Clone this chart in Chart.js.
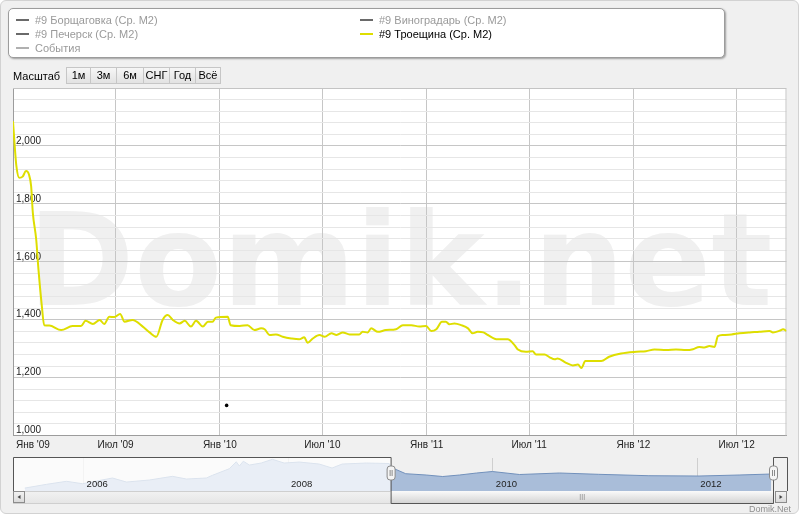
<!DOCTYPE html>
<html lang="ru">
<head>
<meta charset="utf-8">
<title>Domik.net — #9 Троещина (Ср. M2)</title>
<script src="https://cdn.jsdelivr.net/npm/chart.js@4/dist/chart.umd.min.js"></script>
<style>
  html, body { margin: 0; padding: 0; background: #fff; }
  body { width: 800px; height: 516px; position: relative; overflow: hidden; font-family: "Liberation Sans", Arial, sans-serif; }
  #frame { position: absolute; left: 0; top: 0; width: 797px; height: 512px; border: 1px solid #d2d2d2; border-radius: 6px; background: #f0f0f0; }
  canvas { position: absolute; left: 0; }
  #main { top: 0; }
  #nav { top: 452px; }
  #legend { position: absolute; left: 8px; top: 8px; width: 715px; height: 48px; background: #fff; border: 1px solid #9c9c9c; border-radius: 5px; box-shadow: 1px 1px 2px rgba(0,0,0,0.35); font-size: 11px; }
  .item { position: absolute; white-space: nowrap; color: #9a9a9a; line-height: 14px; }
  .item i { display: inline-block; width: 13px; height: 2px; background: #6a6a6a; vertical-align: middle; margin-right: 6px; position: relative; top: -1px; }
  .item.events i { background: #b0b0b0; }
  .item.on { color: #000; }
  .item.on i { background: #dede00; }
  #scale-label { position: absolute; left: 13px; top: 69px; font-size: 11px; color: #000; line-height: 14px; }
  #buttons { position: absolute; left: 67px; top: 67px; display: flex; }
  #buttons span { box-sizing: border-box; height: 17px; line-height: 15px; text-align: center; font-size: 11px; color: #000; border: 1px solid #c6c6c6; margin-left: -1px; background: linear-gradient(#f6f6f6, #e2e2e2); }
  #credit { position: absolute; right: 9px; top: 503px; font-size: 9px; color: #8e8e8e; line-height: 12px; }
</style>
</head>
<body>
<div id="frame"></div>
<canvas id="main" width="800" height="452"></canvas>
<canvas id="nav" width="800" height="60"></canvas>
<div id="legend">
  <div class="item" style="left:7px;top:4px"><i></i>#9 Борщаговка (Ср. M2)</div>
  <div class="item" style="left:7px;top:18px"><i></i>#9 Печерск (Ср. M2)</div>
  <div class="item events" style="left:7px;top:32px"><i></i>События</div>
  <div class="item" style="left:351px;top:4px"><i></i>#9 Виноградарь (Ср. M2)</div>
  <div class="item on" style="left:351px;top:18px"><i></i>#9 Троещина (Ср. M2)</div>
</div>
<div id="scale-label">Масштаб</div>
<div id="buttons">
  <span style="width:25px">1м</span><span style="width:27px">3м</span><span style="width:28px">6м</span><span style="width:27px">СНГ</span><span style="width:27px">Год</span><span style="width:26px">Всё</span>
</div>
<div id="credit">Domik.Net</div>
<script>
// #9 Троещина, средняя цена за м2
const dates = [
  '2009-01-01','2009-01-04','2009-01-07','2009-01-12','2009-01-18','2009-01-24','2009-01-29','2009-02-02','2009-02-05','2009-02-11',
  '2009-02-15','2009-02-21','2009-02-25','2009-03-06','2009-03-27','2009-04-16','2009-05-01','2009-05-09','2009-05-22','2009-06-03',
  '2009-06-11','2009-06-20','2009-06-29','2009-07-09','2009-07-17','2009-07-31','2009-08-18','2009-08-30','2009-09-11','2009-09-22',
  '2009-10-01','2009-10-10','2009-10-22','2009-10-31','2009-11-11','2009-11-20','2009-12-02','2009-12-11','2009-12-19','2009-12-25',
  '2010-01-15','2010-01-20','2010-02-05','2010-02-19','2010-03-03','2010-03-15','2010-03-21','2010-03-30','2010-04-10','2010-04-22',
  '2010-05-07','2010-05-21','2010-05-30','2010-06-05','2010-06-14','2010-06-26','2010-07-05','2010-07-17','2010-07-26','2010-08-06',
  '2010-08-18','2010-09-04','2010-09-10','2010-09-19','2010-09-25','2010-10-07','2010-10-21','2010-11-08','2010-11-20','2010-12-05',
  '2010-12-19','2010-12-31',
  '2011-01-09','2011-01-18','2011-01-28','2011-02-04','2011-02-10','2011-02-19','2011-03-03','2011-03-15','2011-03-23','2011-04-01',
  '2011-04-11','2011-04-19','2011-05-06','2011-05-24','2011-06-05','2011-06-11','2011-06-25','2011-07-07','2011-07-13','2011-07-28',
  '2011-08-06','2011-08-15','2011-08-20','2011-09-04','2011-09-16','2011-09-25','2011-10-01','2011-10-08','2011-11-05','2011-11-19',
  '2011-12-10',
  '2012-01-06','2012-01-23','2012-02-07','2012-02-28','2012-03-16','2012-04-03','2012-04-15','2012-04-26','2012-05-05','2012-05-14',
  '2012-05-23','2012-05-29','2012-06-07','2012-06-22','2012-07-06','2012-07-24','2012-08-10','2012-08-28','2012-09-03','2012-09-15',
  '2012-09-21','2012-09-27'
];
const troeshchina = [
  2085, 2000, 1930, 1890, 1894, 1913, 1902, 1861, 1769, 1676,
  1572, 1445, 1381, 1380, 1364, 1378, 1378, 1396, 1385, 1399,
  1385, 1410, 1409, 1420, 1393, 1399, 1376, 1356, 1341, 1399,
  1416, 1399, 1387, 1396, 1376, 1396, 1376, 1393, 1393, 1407,
  1410, 1381, 1378, 1381, 1364, 1370, 1367, 1347, 1349, 1341,
  1335, 1332, 1339, 1320, 1335, 1347, 1341, 1353, 1347, 1356,
  1349, 1349, 1358, 1356, 1370, 1358, 1364, 1367, 1381, 1381,
  1376, 1378,
  1361, 1367, 1393, 1393, 1384, 1387, 1381, 1370, 1353, 1358,
  1356, 1347, 1332, 1332, 1312, 1297, 1289, 1291, 1280, 1280,
  1270, 1263, 1266, 1251, 1242, 1245, 1233, 1257, 1257, 1272,
  1283,
  1289, 1291, 1297, 1295, 1297, 1295, 1298, 1306, 1304, 1309,
  1306, 1343, 1347, 1349, 1353, 1356, 1358, 1361, 1356, 1362,
  1367, 1361
];

// События
const eventDates = ['2010-01-13'];
const eventValues = [1104];

// ось X основного графика
const tickDates = ['2009-01-01','2009-07-01','2010-01-01','2010-07-01','2011-01-01','2011-07-01','2012-01-01','2012-07-01'];
const tickLabels = ["Янв '09", "Июл '09", "Янв '10", "Июл '10", "Янв '11", "Июл '11", "Янв '12", "Июл '12"];
const yLabelValues = [1000, 1200, 1400, 1600, 1800, 2000];

// навигатор (полная история)
const navDates = [
  '2005-06-05','2005-08-22','2005-11-01','2005-12-28','2006-04-14','2006-06-03','2006-08-24','2006-11-14','2007-01-03','2007-03-15',
  '2007-04-06','2007-06-05','2007-06-30','2007-07-11','2007-07-25','2007-08-16','2007-09-27','2007-11-06','2007-12-18','2008-02-10',
  '2008-04-21','2008-06-06','2008-07-12','2008-10-06','2008-12-27','2009-01-01','2009-02-24','2009-05-08','2009-07-06','2009-09-04',
  '2009-11-04','2009-12-30','2010-04-06','2010-08-27','2011-01-14','2011-07-12','2012-01-07','2012-05-29','2012-09-21'
];
const navValues = [
  760, 965, 1129, 998, 1309, 1090, 1200, 1401, 1254, 1309,
  1456, 1815, 2197, 1962, 2225, 2017, 2126, 2328, 2126, 2180,
  2071, 1853, 2071, 2126, 2100, 1900, 1543, 1472, 1390, 1472,
  1581, 1663, 1500, 1581, 1510, 1434, 1417, 1472, 1527
];
const navStart = '2005-04-24';
const navTickDates = ['2006-01-01','2008-01-01','2010-01-01','2012-01-01'];
const navTickLabels = ['2006', '2008', '2010', '2012'];

const BASE = Date.UTC(2009, 0, 1);
function dayOf(s) {
  const [y, m, d] = s.split('-').map(Number);
  return (Date.UTC(y, m - 1, d) - BASE) / 86400000;
}
const endDay = dayOf(dates[dates.length - 1]);
const tickDays = tickDates.map(dayOf);
const navTickDays = navTickDates.map(dayOf);

const plotBack = {
  id: 'plotBack',
  beforeDraw(chart) {
    const { ctx, chartArea: a } = chart;
    ctx.save();
    ctx.fillStyle = '#fff';
    ctx.fillRect(a.left, a.top, a.width, a.height);
    ctx.font = 'bold 128px "DejaVu Sans"';
    ctx.fillStyle = '#f0f0f0';
    ctx.textAlign = 'left';
    ctx.textBaseline = 'alphabetic';
    ctx.fillText('Domik.net', 28, 305);
    ctx.restore();
  },
  beforeDatasetsDraw(chart) {
    const { ctx, chartArea: a } = chart;
    ctx.save();
    ctx.strokeStyle = '#c4c4c4';
    ctx.lineWidth = 1;
    ctx.beginPath();
    ctx.moveTo(a.left, a.top + 0.5);
    ctx.lineTo(a.right - 0.5, a.top + 0.5);
    ctx.lineTo(a.right - 0.5, a.bottom);
    ctx.stroke();
    ctx.restore();
  },
  afterDraw(chart) {
    const { ctx, chartArea: a } = chart;
    const xs = chart.scales.x;
    ctx.save();
    ctx.font = '10px "Liberation Sans"';
    ctx.fillStyle = '#222';
    ctx.textAlign = 'left';
    ctx.textBaseline = 'middle';
    tickDays.forEach((v, i) => {
      const px = xs.getPixelForValue(v);
      const w = ctx.measureText(tickLabels[i]).width;
      const left = Math.max(px - w / 2, a.left + 3);
      ctx.fillText(tickLabels[i], left, a.bottom + 10);
    });
    ctx.restore();
  }
};

new Chart(document.getElementById('main'), {
  type: 'line',
  data: {
    datasets: [
      {
        label: '#9 Троещина (Ср. M2)',
        data: dates.map((d, i) => ({ x: dayOf(d), y: troeshchina[i] })),
        borderColor: '#dede00',
        borderWidth: 2,
        pointRadius: 0,
        cubicInterpolationMode: 'monotone'
      },
      {
        label: 'События',
        data: eventDates.map((d, i) => ({ x: dayOf(d), y: eventValues[i] })),
        showLine: false,
        pointRadius: 1.8,
        pointBackgroundColor: '#000',
        pointBorderWidth: 0
      }
    ]
  },
  options: {
    responsive: false,
    animation: false,
    events: [],
    layout: { padding: { left: 13, top: 88, right: 13.5, bottom: 16.5 } },
    plugins: { legend: { display: false }, tooltip: { enabled: false } },
    scales: {
      x: {
        type: 'linear',
        min: 0,
        max: endDay,
        afterBuildTicks: (s) => { s.ticks = tickDays.map((v) => ({ value: v })); },
        afterFit: (s) => { s.height = 0; s.paddingLeft = 0; s.paddingRight = 0; },
        ticks: { display: false },
        grid: { color: '#c6c6c6', drawTicks: false },
        border: { color: '#9c9c9c', width: 1 }
      },
      y: {
        min: 1000,
        max: 2200,
        afterFit: (s) => { s.width = 0; },
        ticks: {
          stepSize: 40,
          maxTicksLimit: 100,
          autoSkip: false,
          mirror: true,
          padding: 3,
          labelOffset: -5,
          color: '#222',
          font: { family: '"Liberation Sans"', size: 10 },
          callback: (v) => (yLabelValues.includes(v) ? v.toLocaleString('en-US') : '')
        },
        grid: {
          drawTicks: false,
          color: (c) => (c.tick && c.tick.value % 200 === 0 ? '#c6c6c6' : '#e6e6e6')
        },
        border: { color: '#9c9c9c', width: 1 }
      }
    }
  },
  plugins: [plotBack]
});

const navDecor = {
  id: 'navDecor',
  afterDatasetsDraw(chart) {
    const { ctx, chartArea: a } = chart;
    const xs = chart.scales.x;
    const s0 = xs.getPixelForValue(0);
    const s1 = xs.getPixelForValue(endDay);
    ctx.save();
    // маска невыбранной области
    ctx.fillStyle = 'rgba(255,255,255,0.75)';
    ctx.fillRect(a.left, a.top, s0 - a.left, a.height);
    // подписи лет
    ctx.font = '9.5px "Liberation Sans"';
    ctx.fillStyle = '#222';
    ctx.textBaseline = 'middle';
    navTickDays.forEach((v, i) => {
      ctx.fillText(navTickLabels[i], xs.getPixelForValue(v) + 3, a.bottom - 7);
    });
    // полоса прокрутки
    const sy = a.bottom, sh = 12;
    const track = ctx.createLinearGradient(0, sy, 0, sy + sh);
    track.addColorStop(0, '#f2f2f2');
    track.addColorStop(1, '#e6e6e6');
    ctx.fillStyle = track;
    ctx.strokeStyle = '#cfcfcf';
    ctx.fillRect(a.left, sy, 774 - a.left, sh);
    ctx.strokeRect(a.left + 0.5, sy + 0.5, 773 - a.left, sh);
    const thumb = ctx.createLinearGradient(0, sy, 0, sy + sh);
    thumb.addColorStop(0, '#fafafa');
    thumb.addColorStop(1, '#d4d4d4');
    ctx.fillStyle = thumb;
    ctx.fillRect(s0, sy, s1 - s0, sh);
    ctx.strokeStyle = '#a8a8a8';
    ctx.beginPath();
    const gx = (s0 + s1) / 2;
    [-2, 0, 2].forEach((d) => { ctx.moveTo(gx + d + 0.5, sy + 3); ctx.lineTo(gx + d + 0.5, sy + 9); });
    ctx.stroke();
    // кнопки со стрелками
    [[a.left, -1], [775, 1]].forEach(([bx, dir]) => {
      const g = ctx.createLinearGradient(0, sy, 0, sy + sh);
      g.addColorStop(0, '#f4f4f4');
      g.addColorStop(1, '#d8d8d8');
      ctx.fillStyle = g;
      ctx.fillRect(bx, sy, 12, sh);
      ctx.strokeStyle = '#8c8c8c';
      ctx.strokeRect(bx + 0.5, sy + 0.5, 11, sh - 1);
      ctx.fillStyle = '#444';
      ctx.beginPath();
      const cx = bx + 6, cy = sy + 6;
      ctx.moveTo(cx + 1.5 * dir, cy);
      ctx.lineTo(cx - 1.5 * dir, cy - 2);
      ctx.lineTo(cx - 1.5 * dir, cy + 2);
      ctx.fill();
    });
    // контур навигатора
    ctx.strokeStyle = '#555';
    ctx.lineWidth = 1;
    ctx.beginPath();
    ctx.moveTo(a.left + 0.5, a.bottom);
    ctx.lineTo(a.left + 0.5, a.top - 0.5);
    ctx.lineTo(s0 + 0.5, a.top - 0.5);
    ctx.lineTo(s0 + 0.5, sy + sh + 0.5);
    ctx.lineTo(s1 + 0.5, sy + sh + 0.5);
    ctx.lineTo(s1 + 0.5, a.top - 0.5);
    ctx.lineTo(787.5, a.top - 0.5);
    ctx.lineTo(787.5, a.bottom);
    ctx.stroke();
    // ручки
    [s0, s1].forEach((hx) => {
      const hy = a.top + 8;
      ctx.fillStyle = '#f4f4f4';
      ctx.strokeStyle = '#8a8a8a';
      ctx.beginPath();
      ctx.roundRect(hx - 3.5, hy, 8, 14, 3);
      ctx.fill();
      ctx.stroke();
      ctx.beginPath();
      ctx.moveTo(hx - 0.5, hy + 4); ctx.lineTo(hx - 0.5, hy + 10);
      ctx.moveTo(hx + 1.5, hy + 4); ctx.lineTo(hx + 1.5, hy + 10);
      ctx.stroke();
    });
    ctx.restore();
  }
};

new Chart(document.getElementById('nav'), {
  type: 'line',
  data: {
    datasets: [{
      data: navDates.map((d, i) => ({ x: dayOf(d), y: navValues[i] })),
      borderColor: '#7190bb',
      backgroundColor: '#a9bdd9',
      borderWidth: 1,
      pointRadius: 0,
      fill: 'start',
      tension: 0
    }]
  },
  options: {
    responsive: false,
    animation: false,
    events: [],
    layout: { padding: { left: 13, top: 6, right: 27, bottom: 21 } },
    plugins: { legend: { display: false }, tooltip: { enabled: false } },
    scales: {
      x: {
        type: 'linear',
        min: dayOf(navStart),
        max: endDay,
        afterBuildTicks: (s) => { s.ticks = navTickDays.map((v) => ({ value: v })); },
        afterFit: (s) => { s.height = 0; s.paddingLeft = 0; s.paddingRight = 0; },
        ticks: { display: false },
        grid: { color: '#cfcfcf', drawTicks: false },
        border: { display: false }
      },
      y: { display: false, min: 600, max: 2400 }
    }
  },
  plugins: [navDecor]
});
</script>
</body>
</html>
